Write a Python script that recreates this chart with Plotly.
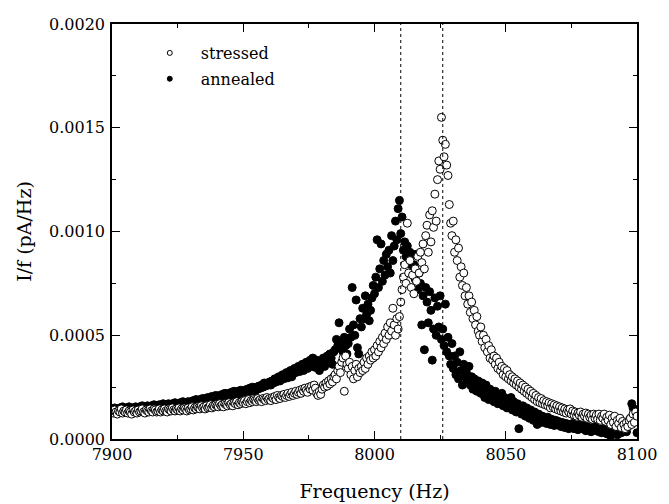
import plotly.graph_objects as go

SERIF = "DejaVu Serif"

# frequency sweep: 7900 .. 8100 Hz in 0.5 Hz steps
FREQ_START = 7900.0
FREQ_STEP = 0.5

# I/f values in units of 1e-4 pA/Hz, one row = 5 Hz
stressed_e4 = [
    1.35, 1.25, 1.4, 1.3, 1.2, 1.35, 1.3, 1.45, 1.25, 1.35,
    1.3, 1.4, 1.25, 1.35, 1.3, 1.2, 1.4, 1.3, 1.35, 1.25,
    1.4, 1.3, 1.35, 1.45, 1.3, 1.25, 1.4, 1.35, 1.3, 1.45,
    1.35, 1.3, 1.45, 1.4, 1.3, 1.35, 1.45, 1.3, 1.4, 1.35,
    1.45, 1.35, 1.3, 1.45, 1.4, 1.35, 1.5, 1.4, 1.35, 1.45,
    1.4, 1.5, 1.35, 1.45, 1.4, 1.5, 1.45, 1.35, 1.5, 1.4,
    1.45, 1.55, 1.4, 1.5, 1.45, 1.55, 1.5, 1.45, 1.6, 1.5,
    1.55, 1.45, 1.6, 1.5, 1.55, 1.65, 1.5, 1.6, 1.55, 1.65,
    1.6, 1.55, 1.7, 1.6, 1.65, 1.55, 1.7, 1.65, 1.6, 1.75,
    1.65, 1.7, 1.6, 1.75, 1.7, 1.8, 1.65, 1.75, 1.7, 1.8,
    1.75, 1.85, 1.7, 1.8, 1.9, 1.75, 1.85, 1.8, 1.9, 1.85,
    1.8, 1.95, 1.85, 1.9, 1.8, 1.95, 1.9, 1.85, 2.0, 1.9,
    1.95, 1.85, 2.0, 1.95, 2.05, 1.9, 2.1, 2.0, 1.95, 2.1,
    2.05, 2.15, 2.0, 2.1, 2.2, 2.05, 2.15, 2.25, 2.1, 2.2,
    2.3, 2.15, 2.25, 2.35, 2.2, 2.4, 2.3, 2.45, 2.35, 2.25,
    2.5, 2.4, 2.55, 2.35, 2.6, 2.45, 2.2, 2.1, 2.3, 2.15,
    2.4, 2.6, 2.5, 2.7, 2.55, 2.8, 2.65, 2.9, 2.75, 3.0,
    3.1, 2.9, 3.3, 3.5, 3.2, 3.7, 3.9, 2.3, 4.0, 3.6,
    3.4, 3.7, 3.1, 3.5, 2.9, 3.3, 3.6, 3.0, 3.4, 3.2,
    3.5, 3.3, 3.7, 3.4, 3.9, 3.6, 4.0, 3.8, 4.2, 3.9,
    4.3, 4.0, 4.5, 4.2, 4.7, 4.4, 4.9, 4.6, 5.1, 4.8,
    5.4, 5.0, 5.6, 5.2, 6.3, 5.5, 5.0, 5.8, 5.3, 5.9,
    6.6, 7.2, 7.8, 8.4, 7.5, 10.4, 8.0, 8.6, 7.3, 7.9,
    7.0, 8.2, 7.6, 8.8, 8.0, 9.0, 8.5, 9.4, 8.2, 9.8,
    10.3, 9.0, 10.8, 9.5, 11.0, 10.2, 11.8, 10.5, 12.5, 13.4,
    13.0, 15.5, 14.4, 13.6, 14.2, 13.2, 12.7, 11.3, 10.4, 9.8,
    10.5, 9.0, 9.6, 8.6, 9.2, 7.8, 8.3, 7.4, 8.0, 6.9,
    7.3, 6.5, 6.9, 6.1, 6.6, 5.8, 6.2, 5.5, 5.9, 5.2,
    5.0, 5.4, 4.7, 5.0, 4.4, 4.8, 4.2, 4.5, 3.9, 4.3,
    3.8, 4.0, 3.6, 3.9, 3.4, 3.7, 3.3, 3.5, 3.1, 3.4,
    3.0, 3.3, 2.9, 3.1, 2.8, 3.0, 2.7, 2.9, 2.6, 2.8,
    2.5, 2.7, 2.4, 2.6, 2.3, 2.5, 2.2, 2.4, 2.1, 2.3,
    2.0, 2.2, 1.9, 2.1, 1.8, 2.0, 1.75, 1.95, 1.7, 1.85,
    1.65, 1.8, 1.6, 1.75, 1.5, 1.7, 1.55, 1.65, 1.45, 1.6,
    1.4, 1.55, 1.35, 1.5, 1.3, 1.45, 1.25, 1.4, 1.3, 1.45,
    1.2, 1.35, 1.15, 1.3, 1.1, 1.25, 1.15, 1.3, 1.05, 1.2,
    1.1, 1.25, 1.0, 1.2, 1.05, 1.15, 0.95, 1.2, 1.0, 1.15,
    0.95, 1.2, 0.9, 1.1, 1.0, 1.2, 0.85, 1.05, 0.9, 1.15,
    0.7, 1.0, 0.8, 1.1, 0.6, 0.9, 0.75, 1.0, 0.55, 0.85,
    0.7, 0.5, 0.8, 0.6, 0.9, 1.0, 0.7, 1.2, 0.8, 1.3,
    1.1,
]

annealed_e4 = [
    1.45, 1.35, 1.5, 1.4, 1.45, 1.35, 1.5, 1.4, 1.55, 1.45,
    1.4, 1.5, 1.45, 1.55, 1.4, 1.5, 1.45, 1.4, 1.55, 1.5,
    1.45, 1.55, 1.5, 1.6, 1.45, 1.55, 1.5, 1.6, 1.55, 1.5,
    1.6, 1.55, 1.65, 1.5, 1.6, 1.55, 1.65, 1.6, 1.55, 1.7,
    1.6, 1.65, 1.55, 1.7, 1.6, 1.65, 1.7, 1.6, 1.75, 1.65,
    1.7, 1.65, 1.75, 1.7, 1.8, 1.65, 1.75, 1.7, 1.8, 1.75,
    1.8, 1.75, 1.85, 1.8, 1.9, 1.75, 1.85, 1.9, 1.8, 1.95,
    1.85, 1.95, 1.9, 2.0, 1.85, 1.95, 2.05, 1.9, 2.0, 2.1,
    1.95, 2.05, 2.1, 2.0, 2.15, 2.05, 2.2, 2.1, 2.0, 2.2,
    2.1, 2.25, 2.15, 2.3, 2.2, 2.1, 2.3, 2.2, 2.35, 2.25,
    2.2, 2.35, 2.3, 2.4, 2.25, 2.45, 2.35, 2.5, 2.4, 2.3,
    2.5, 2.4, 2.55, 2.45, 2.6, 2.5, 2.7, 2.55, 2.65, 2.6,
    2.75, 2.6, 2.8, 2.7, 2.9, 2.75, 2.85, 3.0, 2.8, 2.95,
    3.1, 2.9, 3.05, 3.2, 2.95, 3.15, 3.3, 3.0, 3.25, 3.4,
    3.2, 3.35, 3.5, 3.25, 3.45, 3.6, 3.3, 3.55, 3.7, 3.4,
    3.6, 3.8, 3.5, 3.9, 3.65, 3.45, 3.8, 3.55, 3.3, 3.7,
    3.6, 3.9, 3.5, 3.8, 4.0, 3.7, 4.1, 3.9, 3.6, 4.2,
    4.3, 4.8, 4.5, 5.6, 4.4, 4.7, 4.2, 4.9, 4.5, 4.1,
    4.6, 5.3, 4.9, 7.3, 5.5, 5.0, 6.7, 4.4, 4.1, 5.8,
    5.4, 6.3, 5.8, 6.9, 6.0, 6.5, 5.7, 6.2, 6.8, 7.4,
    7.0, 7.8, 9.6, 7.3, 8.2, 9.4, 7.6, 8.6, 7.9, 8.9,
    8.3, 9.1, 8.0, 9.8, 8.6, 9.3, 10.5, 9.6, 11.1, 11.5,
    9.9, 10.7, 9.1, 9.5, 8.8, 9.3, 8.6, 9.0, 8.4, 8.9,
    8.4, 7.7, 8.9, 7.2, 8.0, 7.5, 5.5, 6.9, 4.3, 7.3,
    6.6, 5.6, 7.1, 6.2, 3.8, 5.3, 6.8, 5.0, 6.4, 5.4,
    6.9, 4.8, 5.3, 4.5, 6.5, 4.2, 4.9, 4.0, 3.6, 4.6,
    3.4, 4.0, 3.1, 3.7, 2.9, 4.2, 3.3, 2.6, 3.6, 3.0,
    3.2, 2.8, 3.5, 2.6, 3.0, 2.4, 2.9, 2.7, 2.3, 2.8,
    2.5, 2.2, 2.7, 2.4, 2.0, 2.6, 2.3, 1.9, 2.4, 2.1,
    2.2, 1.8, 2.3, 2.0, 1.7, 2.1, 1.9, 2.2, 1.6, 2.0,
    1.8, 1.5, 1.9, 1.7, 2.0, 1.4, 1.8, 1.6, 1.3, 1.7,
    0.5, 1.5, 1.2, 1.6, 1.4, 1.1, 1.5, 1.3, 1.0, 1.4,
    1.2, 0.9, 1.3, 1.1, 0.7, 1.2, 1.0, 0.8, 1.1, 0.9,
    1.0, 0.75, 1.05, 0.85, 0.7, 0.95, 0.8, 0.65, 0.9, 0.75,
    0.85, 0.7, 0.6, 0.8, 0.7, 0.55, 0.75, 0.65, 0.5, 0.7,
    0.6, 0.75, 0.5, 0.65, 0.55, 0.45, 0.7, 0.6, 0.5, 0.65,
    0.55, 0.4, 0.6, 0.5, 0.45, 0.35, 0.55, 0.45, 0.6, 0.4,
    0.5, 0.35, 0.45, 0.3, 0.5, 0.4, 0.35, 0.25, 0.45, 0.3,
    0.15, 0.35, 0.25, 0.4, 0.3, 0.2, 0.35, 0.45, 0.3, 0.5,
    0.4, 0.55, 0.35, 0.6, 0.8, 1.0, 1.7, 1.5, 1.2, 0.9,
    0.3,
]

# resonance positions marked with dotted lines (Hz)
resonance_lines = [8010, 8026]

freq = [FREQ_START + FREQ_STEP * i for i in range(len(stressed_e4))]
stressed = [v * 1e-4 for v in stressed_e4]
annealed = [v * 1e-4 for v in annealed_e4]


def _axis(**extra):
    axis = dict(
        showline=True,
        linecolor="black",
        linewidth=1.5,
        mirror="ticks",
        ticks="inside",
        ticklen=8,
        tickwidth=1.2,
        tickcolor="black",
        showgrid=False,
        zeroline=False,
        automargin=False,
        tickfont=dict(family=SERIF, size=16, color="black"),
        title_font=dict(family=SERIF, size=19, color="black"),
    )
    axis.update(extra)
    return axis


fig = go.Figure()

# data traces (annealed under, stressed on top)
fig.add_trace(
    go.Scatter(
        x=freq,
        y=annealed,
        mode="markers",
        name="annealed",
        showlegend=False,
        marker=dict(symbol="circle", size=8, color="black", line=dict(color="black", width=1)),
    )
)
fig.add_trace(
    go.Scatter(
        x=freq,
        y=stressed,
        mode="markers",
        name="stressed",
        showlegend=False,
        marker=dict(symbol="circle", size=8, color="white", line=dict(color="black", width=1)),
    )
)

# small legend symbols
fig.add_trace(
    go.Scatter(
        x=[None], y=[None], mode="markers", name="stressed", legendgroup="s",
        marker=dict(symbol="circle", size=5, color="white", line=dict(color="black", width=1)),
    )
)
fig.add_trace(
    go.Scatter(
        x=[None], y=[None], mode="markers", name="annealed", legendgroup="a",
        marker=dict(symbol="circle", size=5, color="black", line=dict(color="black", width=1)),
    )
)

for f0 in resonance_lines:
    fig.add_vline(x=f0, line=dict(color="black", width=1, dash="dot"))

fig.update_layout(
    template="none",
    width=669,
    height=504,
    paper_bgcolor="white",
    plot_bgcolor="white",
    margin=dict(l=104, r=40, t=16, b=73, autoexpand=False),
    font=dict(family=SERIF, color="black"),
    showlegend=True,
    legend=dict(
        x=0.051,
        y=0.971,
        xanchor="left",
        yanchor="top",
        itemwidth=52,
        traceorder="grouped",
        tracegroupgap=2,
        bgcolor="rgba(0,0,0,0)",
        font=dict(family=SERIF, size=16, color="black"),
        itemclick=False,
        itemdoubleclick=False,
    ),
    xaxis=_axis(
        range=[7900, 8100],
        tick0=7900,
        dtick=50,
        minor=dict(ticks="inside", ticklen=4, dtick=25, tickcolor="black"),
        title=dict(text="Frequency (Hz)", standoff=22),
        ticklabelstandoff=0,
    ),
    yaxis=_axis(
        range=[0, 0.002],
        tick0=0,
        dtick=0.0005,
        tickformat=".4f",
        minor=dict(ticks="inside", ticklen=4, dtick=0.00025, tickcolor="black"),
        title=dict(text="I/f (pA/Hz)", standoff=12),
        ticklabelstandoff=2,
    ),
)

fig.write_html("out.html")
